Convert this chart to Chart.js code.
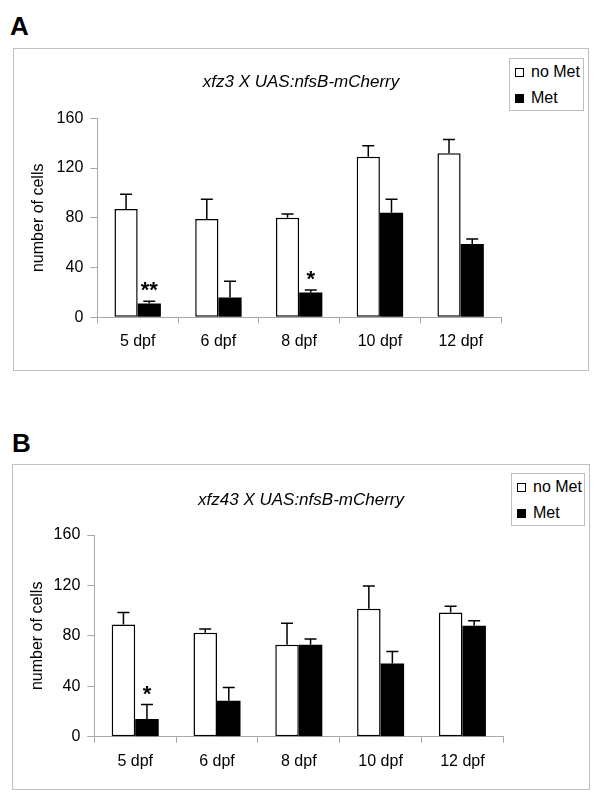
<!DOCTYPE html>
<html><head><meta charset="utf-8">
<script src="https://cdn.jsdelivr.net/npm/chart.js@4.4.1/dist/chart.umd.min.js"></script>
<style>
body{margin:0;background:#fff;width:600px;height:805px;position:relative;overflow:hidden;font-family:'Liberation Sans',Arial,sans-serif;color:#000;}
.letter{position:absolute;font-weight:bold;font-size:26px;line-height:26px;}
.frame{position:absolute;border:1px solid #c0c0c0;box-sizing:border-box;}
.frame canvas{position:absolute;left:0;top:0;}
.legend{position:absolute;border:1px solid #c0c0c0;box-sizing:border-box;background:#fff;font-size:16px;}
.legend .sw{position:absolute;width:9px;height:9px;box-sizing:border-box;border:1.5px solid #000;}
.legend .tx{position:absolute;height:18px;line-height:18px;white-space:nowrap;}
</style></head>
<body>
<div class="letter" style="left:10px;top:13px;">A</div>
<div class="frame" id="frameA" style="left:13px;top:48px;width:576px;height:323px;"><canvas id="cA" width="574" height="321"></canvas></div>
<div class="legend" id="legA" style="left:509px;top:58px;width:75px;height:53px;"></div>

<div class="letter" style="left:12px;top:430px;">B</div>
<div class="frame" id="frameB" style="left:12px;top:464px;width:578px;height:326px;"><canvas id="cB" width="576" height="324"></canvas></div>
<div class="legend" id="legB" style="left:511px;top:473px;width:74px;height:53px;"></div>

<script>
const categories = ['5 dpf', '6 dpf', '8 dpf', '10 dpf', '12 dpf'];
const seriesLabels = ['no Met', 'Met'];
const yTickValues = [0, 40, 80, 120, 160];
const yAxisTitle = 'number of cells';

const titleA = 'xfz3 X UAS:nfsB-mCherry';
const noMetA = [87, 79, 80, 129, 132];
const noMetErrA = [12, 16, 3, 9, 11];
const metA = [11, 16, 20, 84, 59];
const metErrA = [2, 13, 2, 11, 4];
const starsA = ['**', '', '*', '', ''];

const titleB = 'xfz43 X UAS:nfsB-mCherry';
const noMetB = [89, 82.5, 73, 101.5, 98.5];
const noMetErrB = [9.5, 3, 17, 18, 5];
const metB = [14, 28.5, 73, 58, 88];
const metErrB = [11.5, 10.5, 4.5, 9.5, 4];
const starsB = ['*', '', '', '', ''];

const FONT = "'Liberation Sans', Arial, sans-serif";
Chart.defaults.font.family = FONT;
Chart.defaults.color = '#000';

const errPlugin = {
  id: 'errBars',
  afterDatasetsDraw(chart) {
    const ctx = chart.ctx, y = chart.scales.y;
    chart.data.datasets.forEach((ds, i) => {
      const meta = chart.getDatasetMeta(i);
      meta.data.forEach((bar, j) => {
        const top = y.getPixelForValue(ds.data[j] + ds.errors[j]);
        ctx.save();
        ctx.strokeStyle = '#000';
        ctx.lineWidth = 1.5;
        ctx.beginPath();
        ctx.moveTo(bar.x, bar.y);
        ctx.lineTo(bar.x, top);
        ctx.moveTo(bar.x - 6, top);
        ctx.lineTo(bar.x + 6, top);
        ctx.stroke();
        if (ds.stars && ds.stars[j]) {
          ctx.font = 'bold 22px ' + FONT;
          ctx.textAlign = 'center';
          ctx.textBaseline = 'alphabetic';
          ctx.fillStyle = '#000';
          ctx.fillText(ds.stars[j], bar.x, top - 4);
        }
        ctx.restore();
      });
    });
  }
};

function makeChart(canvas, L, title, noMet, noMetErr, met, metErr, stars) {
  return new Chart(canvas, {
    type: 'bar',
    data: {
      labels: categories,
      datasets: [
        {label: seriesLabels[0], data: noMet, errors: noMetErr, backgroundColor: '#fff', borderColor: '#000', borderWidth: 1.5, borderSkipped: false},
        {label: seriesLabels[1], data: met, errors: metErr, stars: stars, backgroundColor: '#000', borderColor: '#000', borderWidth: 0}
      ]
    },
    options: {
      responsive: false, animation: false, devicePixelRatio: 1,
      layout: {padding: 0},
      datasets: {bar: {categoryPercentage: 0.575, barPercentage: 1}},
      plugins: {
        legend: {display: false},
        tooltip: {enabled: false},
        title: {display: true, text: title, color: '#000', font: {size: 17, style: 'italic', weight: 'normal'}, padding: {top: L.titleTop, bottom: L.titleBottom}}
      },
      scales: {
        x: {
          grid: {display: true, drawOnChartArea: false, drawTicks: true, tickLength: 6, color: '#a8a8a8', offset: true},
          border: {color: '#a8a8a8', width: 1},
          ticks: {color: '#000', font: {size: 16}, padding: 9, maxRotation: 0, autoSkip: false},
          afterFit: s => { s.height = L.xH; }
        },
        y: {
          min: 0, max: 160,
          afterBuildTicks: s => { s.ticks = yTickValues.map(v => ({value: v})); },
          grid: {drawOnChartArea: false, drawTicks: true, tickLength: 7, color: '#a8a8a8'},
          border: {color: '#a8a8a8', width: 1},
          ticks: {color: '#000', font: {size: 16}, padding: 7},
          title: {display: true, text: yAxisTitle, color: '#000', font: {size: 16}, padding: {top: 15, bottom: 0}},
          afterFit: s => { s.width = L.yW; }
        },
        spacer: {
          type: 'linear', position: 'right', display: true,
          grid: {display: false, drawTicks: false}, border: {display: false},
          ticks: {display: false},
          afterFit: s => { s.width = L.padRight; }
        }
      }
    },
    plugins: [errPlugin]
  });
}

function makeLegend(el, chart, centers) {
  chart.data.datasets.forEach((ds, i) => {
    const sw = document.createElement('div');
    sw.className = 'sw';
    sw.style.left = '5px';
    sw.style.top = (centers[i] - 4.5) + 'px';
    sw.style.background = ds.backgroundColor;
    el.appendChild(sw);
    const tx = document.createElement('div');
    tx.className = 'tx';
    tx.style.left = '21px';
    tx.style.top = (centers[i] - 9) + 'px';
    tx.textContent = ds.label;
    el.appendChild(tx);
  });
}

const chartA = makeChart(document.getElementById('cA'),
  {padRight: 87, titleTop: 22.8, titleBottom: 26.1, yW: 83.3, xH: 52.7},
  titleA, noMetA, noMetErrA, metA, metErrA, starsA);
const chartB = makeChart(document.getElementById('cB'),
  {padRight: 85.7, titleTop: 24.8, titleBottom: 24.8, yW: 81.3, xH: 52.3},
  titleB, noMetB, noMetErrB, metB, metErrB, starsB);

makeLegend(document.getElementById('legA'), chartA, [13, 39]);
makeLegend(document.getElementById('legB'), chartB, [13, 39]);
</script>
</body></html>
